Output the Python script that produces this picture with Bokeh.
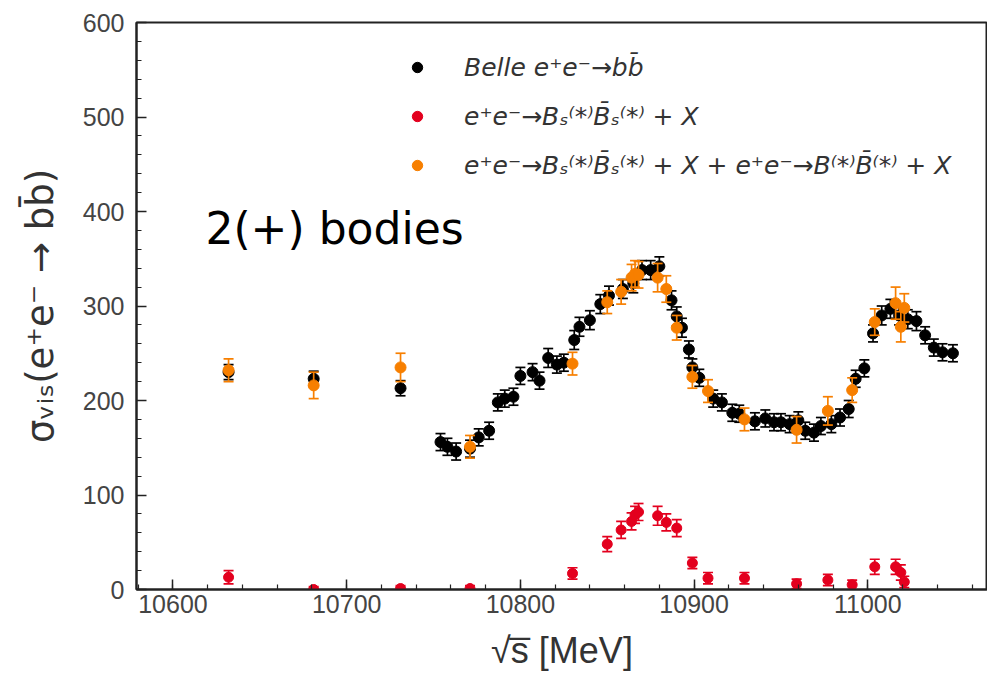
from bokeh.plotting import figure
from bokeh.models import ColumnDataSource, Range1d, SingleIntervalTicker, Legend, LegendItem, Label
from bokeh.embed import file_html
from bokeh.resources import INLINE

# ---- data ----
belle_x = [10632, 10681, 10731, 10754, 10758, 10763, 10771, 10776, 10782,
           10787, 10791, 10796, 10800, 10807, 10811, 10816, 10821, 10825,
           10831, 10834, 10840, 10846, 10851, 10859, 10865, 10870, 10875,
           10880, 10887, 10890, 10893, 10897, 10899, 10903, 10911, 10916,
           10922, 10926, 10935, 10941, 10946, 10950, 10955, 10960, 10964,
           10969, 10973, 10979, 10984, 10989, 10993, 10998, 11003, 11008,
           11013, 11018, 11023, 11028, 11033, 11038, 11043, 11049]
belle_y = [230, 223, 213, 156, 151, 146, 149, 161, 168,
           198, 202, 204, 226, 230, 221, 245, 238, 240,
           264, 278, 285, 302, 311, 318, 324, 338, 338,
           342, 306, 289, 277, 254, 235, 224, 202, 198,
           187, 186, 178, 181, 177, 177, 175, 179, 168,
           166, 173, 175, 182, 191, 223, 234, 271, 290,
           297, 290, 286, 284, 269, 256, 251, 250]
belle_err = [8, 8, 8, 9, 9, 9, 9, 9, 9,
             9, 9, 9, 9, 9, 9, 10, 9, 9,
             10, 10, 10, 10, 10, 10, 10, 10, 10,
             10, 10, 10, 10, 9, 9, 9, 9, 9,
             9, 9, 9, 9, 9, 9, 9, 9, 9,
             9, 9, 9, 9, 9, 9, 9, 9, 10,
             10, 10, 10, 10, 9, 9, 9, 9]

scan_x = [10632, 10681, 10731, 10771, 10830, 10850, 10858, 10864, 10866,
          10868, 10879, 10884, 10890, 10899, 10908, 10929, 10959, 10977,
          10991, 11004, 11016, 11019, 11021]
bsbs_y = [13, 0, 1, 1, 17, 48, 63, 72, 79,
          82, 78, 71, 65, 28, 12, 12, 6, 10,
          5, 24, 24, 18, 8]
bsbs_err = [7, 3, 3, 3, 6, 8, 9, 9, 9,
            9, 10, 9, 9, 6, 6, 6, 5, 6,
            5, 8, 8, 8, 6]
total_y = [232, 216, 235, 151, 239, 304, 315, 330, 334,
           333, 330, 318, 277, 225, 210, 180, 169, 189,
           211, 283, 303, 278, 298]
total_err = [12, 14, 15, 12, 12, 12, 13, 14, 14,
             14, 15, 14, 13, 12, 12, 12, 14, 15,
             13, 14, 17, 16, 15]

labels = ["Belle e\u207ae\u207b\u2192bb\u0304",
          "e\u207ae\u207b\u2192B\u209b\u207d*\u207eB\u0304\u209b\u207d*\u207e + X",
          "e\u207ae\u207b\u2192B\u209b\u207d*\u207eB\u0304\u209b\u207d*\u207e + X + e\u207ae\u207b\u2192B\u207d*\u207eB\u0304\u207d*\u207e + X"]

BLACK = "#000000"
RED = "#e3001e"
ORANGE = "#f77f00"
AX = "#222222"

p = figure(width=987, height=681,
           x_range=Range1d(10579.0, 11068.9), y_range=Range1d(0, 600),
           output_backend="svg", toolbar_location=None,
           min_border_left=136, min_border_right=0,
           min_border_top=22, min_border_bottom=92)
p.background_fill_color = "white"
p.border_fill_color = "white"
p.outline_line_color = AX
p.outline_line_width = 2
p.xgrid.visible = False
p.ygrid.visible = False


def src(x, y, e):
    return ColumnDataSource(dict(x=x, y=y,
                                 lo=[a - b for a, b in zip(y, e)],
                                 hi=[a + b for a, b in zip(y, e)]))


def draw(source, color, size):
    p.segment(x0="x", y0="lo", x1="x", y1="hi", source=source,
              line_color=color, line_width=1.7)
    p.scatter("x", "lo", source=source, marker="dash", size=10,
              line_color=color, line_width=1.7)
    p.scatter("x", "hi", source=source, marker="dash", size=10,
              line_color=color, line_width=1.7)
    return p.scatter("x", "y", source=source, marker="circle", size=size,
                     fill_color=color, line_color=color)


r_belle = draw(src(belle_x, belle_y, belle_err), BLACK, 11)
r_bsbs = draw(src(scan_x, bsbs_y, bsbs_err), RED, 10)
r_total = draw(src(scan_x, total_y, total_err), ORANGE, 11)

for ax in (p.xaxis[0], p.yaxis[0]):
    ax.axis_line_color = AX
    ax.axis_line_width = 2
    ax.major_tick_line_color = AX
    ax.minor_tick_line_color = AX
    ax.major_tick_line_width = 1.5
    ax.minor_tick_line_width = 1.2
    ax.major_tick_in = 10
    ax.major_tick_out = 0
    ax.minor_tick_in = 5
    ax.minor_tick_out = 0
    ax.major_label_text_font = "Liberation Sans"
    ax.major_label_text_font_size = "25px"
    ax.major_label_text_color = "#444444"
    ax.axis_label_text_color = "#333333"
    ax.axis_label_text_font_style = "normal"

p.xaxis.ticker = SingleIntervalTicker(interval=100, num_minor_ticks=5)
p.yaxis.ticker = SingleIntervalTicker(interval=100, num_minor_ticks=5)
p.xaxis.major_label_standoff = 5
p.yaxis.major_label_standoff = 12
p.xaxis.axis_label = "\u221as\u0305 [MeV]"
p.xaxis.axis_label_text_font = "Liberation Sans"
p.xaxis.axis_label_text_font_size = "36px"
p.xaxis.axis_label_standoff = 14
p.yaxis.axis_label = "\u03c3\u1d65\u1d62\u209b(e\u207ae\u207b \u2192 bb\u0304)"
p.yaxis.axis_label_text_font = "DejaVu Sans"
p.yaxis.axis_label_text_font_size = "37px"
p.yaxis.axis_label_standoff = 18

legend = Legend(items=[LegendItem(label=labels[0], renderers=[r_belle]),
                       LegendItem(label=labels[1], renderers=[r_bsbs]),
                       LegendItem(label=labels[2], renderers=[r_total])],
                location=(268, 409))
legend.border_line_color = None
legend.background_fill_alpha = 0
legend.padding = 0
legend.margin = 0
legend.spacing = 19
legend.glyph_width = 26
legend.glyph_height = 28
legend.label_height = 30
legend.label_standoff = 34
legend.label_text_font = "DejaVu Sans"
legend.label_text_font_style = "italic"
legend.label_text_font_size = "25px"
legend.label_text_color = "#333333"
p.add_layout(legend)

p.add_layout(Label(x=10618.7, y=382.5, text="2(+) bodies",
                   text_font="DejaVu Sans", text_font_size="44px",
                   text_color="#000000", text_baseline="alphabetic"))

open("out.html", "w").write(file_html(p, INLINE))
